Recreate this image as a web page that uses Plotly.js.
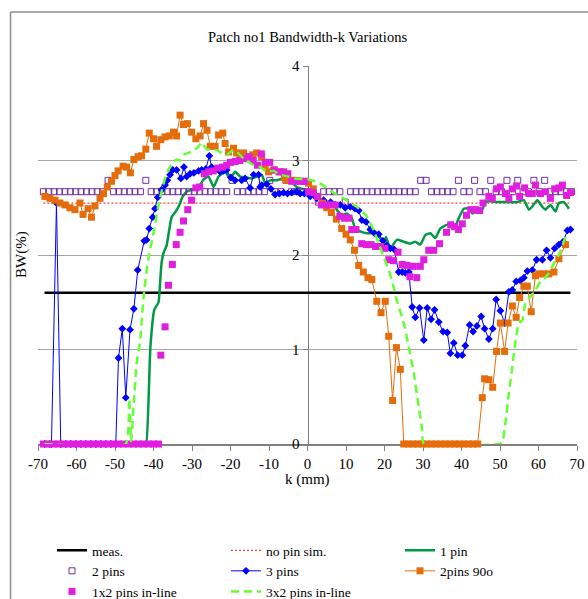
<!DOCTYPE html>
<html><head><meta charset="utf-8">
<script src="https://cdn.plot.ly/plotly-3.0.1.min.js"></script>
<style>html,body{margin:0;padding:0;background:#fff}#chart{width:588px;height:599px}</style>
</head><body><div id="chart"></div>
<script>
// ---- data ----
const xTickVals = [-70,-60,-50,-40,-30,-20,-10,0,10,20,30,40,50,60,70];
const xTickText = ['-70','-60','-50','-40','-30','-20','-10','0','10','20','30','40','50','60','70'];
const yTickVals = [0,1,2,3,4];

const measK = [-68.3, 68.3];
const measBW = [1.6, 1.6];

const noPinK = [-68.6, 68.6];
const noPinBW = [2.55, 2.55];

const onePinK = [-68.3,-42.2,-41.9,-40.8,-39.8,-38.7,-38.3,-37.9,-37.4,-36.6,-35.3,-34.4,-33.5,-32.4,-31.4,-30.1,-29,-27.9,-27,-25.7,-24.4,-23.1,-21.4,-20.1,-18.8,-17.5,-16,-14.5,-13.2,-11.9,-11,-9.7,-8,-6.2,-4.5,-2.8,-1.4,0,0.7,2.4,4.2,5.9,6.8,7.6,8.9,10.2,11.5,12.4,13.7,15.4,18,19.8,20.4,21.5,23.2,25,26.7,28,29.3,30.6,31.9,33.2,34.5,36.3,38,39.3,40.6,42.3,42.8,44,45.4,46.2,47.5,49.3,51.9,54.5,56.2,57.5,58.5,59.7,61,61.8,63.1,64.4,65.3,66.6,67.9];
const onePinBW = [0,0,0,1.03,1.42,1.50,1.70,1.92,2.02,2.10,2.40,2.45,2.51,2.62,2.67,2.69,2.70,2.74,2.80,2.83,2.72,2.83,2.88,2.81,2.88,2.83,2.82,2.81,2.83,2.85,2.76,2.79,2.79,2.81,2.79,2.72,2.70,2.69,2.67,2.62,2.56,2.51,2.56,2.48,2.42,2.44,2.39,2.28,2.25,2.23,2.23,2.12,2.19,2.07,2.16,2.14,2.12,2.14,2.11,2.21,2.23,2.18,2.28,2.32,2.28,2.39,2.49,2.49,2.44,2.46,2.48,2.56,2.57,2.56,2.56,2.56,2.58,2.48,2.52,2.58,2.51,2.48,2.53,2.46,2.55,2.56,2.49];

const twoPinsK = [-68.6,-67.2,-65.8,-64.4,-63,-61.6,-60.2,-58.8,-57.4,-56,-54.6,-53.2,-51.8,-50.4,-49,-47.6,-46.2,-44.8,-43.4,-42,-40.6,-39.2,-37.8,-36.4,-35,-33.6,-32.2,-30.8,-29.4,-28,-26.6,-25.2,-23.8,-22.4,-21,-19.6,-18.2,-16.8,-15.4,-14,-12.6,-11.2,-9.8,-8.4,-7,-5.6,-4.2,-2.8,-1.4,0,1.4,2.8,4.2,5.6,7,8.4,9.8,11.2,12.6,14,15.4,16.8,18.2,19.6,21,22.4,23.8,25.2,26.6,28,29.4,30.8,32.2,33.6,35,36.4,37.8,39.2,40.6,42,43.4,44.8,46.2,47.6,49,50.4,51.8,53.2,54.6,56,57.4,58.8,60.2,61.6,63,64.4,65.8,67.2,68.6];
const twoPinsBW = [2.67,2.67,2.67,2.67,2.67,2.67,2.67,2.67,2.67,2.67,2.67,2.67,2.79,2.67,2.67,2.67,2.67,2.67,2.67,2.79,2.67,2.67,2.67,2.67,2.67,2.67,2.67,2.67,2.67,2.67,2.67,2.67,2.67,2.67,2.67,2.79,2.67,2.67,2.67,2.67,2.67,2.67,2.79,2.67,2.67,2.79,2.67,2.67,2.67,2.67,2.67,2.56,2.67,2.67,2.67,2.67,2.56,2.67,2.67,2.67,2.67,2.67,2.67,2.67,2.67,2.67,2.67,2.67,2.67,2.67,2.79,2.79,2.67,2.67,2.67,2.67,2.67,2.79,2.67,2.67,2.79,2.67,2.67,2.79,2.67,2.67,2.79,2.67,2.79,2.67,2.67,2.79,2.67,2.79,2.67,2.67,2.67,2.67,2.67];

const threePinsK = [-68.3,-67,-66.5,-65.2,-64.1,-62.8,-61.5,-60.2,-58.9,-57.6,-56.3,-55,-53.7,-52.4,-51.1,-49.8,-49.1,-48.1,-47.2,-46.1,-45.1,-44.1,-42.4,-41.8,-41.1,-40.2,-39.6,-38.9,-37.9,-37,-36.4,-35.7,-35,-34,-32.9,-32.1,-31.4,-30.5,-29.5,-28.3,-27.5,-26.4,-25.5,-24.9,-24,-22.7,-21.8,-21,-19.9,-18.8,-17.1,-16.2,-14.9,-14,-12.7,-12.3,-11.9,-10.6,-9.5,-8.4,-7.3,-6.2,-5.2,-4.1,-2.8,-1.9,-0.8,0.7,2.4,4.2,6,7.2,8.5,9.8,11.1,12.3,13.3,14.1,15.2,16.3,17.4,18.5,19.6,20.6,21.5,22.5,23.7,24.6,25.4,26.3,27.2,28,29.1,30.2,31.1,32.1,33,34.1,35.2,36.3,37.1,38,39,40.2,41,42.1,43,44,45.1,46,47.1,48.1,49,50.1,51.2,52.3,53.2,54.2,55.3,56.2,57.1,58.4,59.5,61,62.1,63.1,64.2,65.3,66.4,67.5,68.3];
const threePinsBW = [0,0,0,2.55,0,0,0,0,0,0,0,0,0,0,0,0,0.91,1.22,0.49,1.21,1.43,1.84,2.15,2.16,2.28,2.40,2.49,2.61,2.69,2.74,2.79,2.85,2.90,2.90,2.81,2.93,2.83,2.86,2.87,2.89,2.90,2.91,3.05,2.93,2.90,2.88,2.89,2.90,2.82,2.79,2.79,2.81,2.71,2.85,2.85,2.72,2.74,2.75,2.70,2.64,2.65,2.66,2.65,2.66,2.67,2.65,2.65,2.62,2.60,2.58,2.56,2.53,2.53,2.50,2.51,2.49,2.47,2.37,2.35,2.27,2.23,2.22,2.15,2.10,2.07,2.06,1.82,1.82,1.81,1.82,1.45,1.34,1.44,1.10,1.44,1.32,1.42,1.29,1.19,1.18,0.96,1.07,0.94,0.94,1.04,1.26,1.19,1.25,1.35,1.22,1.11,1.22,1.53,1.41,1.28,1.61,1.63,1.72,1.73,1.76,1.83,1.84,1.95,1.95,2.05,1.97,2.07,2.11,2.14,2.26,2.27];

const twoPins90K = [-68.2,-66.9,-65.6,-64.3,-63,-61.7,-60.4,-59.1,-58.3,-57,-56.1,-55.2,-53.9,-53,-52,-50.9,-50,-49.2,-47.9,-47,-46,-45.1,-44,-43.1,-42,-41.1,-40,-39.2,-38.1,-37,-35.9,-34.8,-34,-33.1,-32.2,-31.2,-30.1,-29,-27.9,-27,-26.1,-25.3,-24,-23.1,-22,-21.4,-20.5,-19.2,-18.4,-17.5,-16.6,-15.3,-14.2,-13.2,-11.9,-11,-10.1,-8.8,-7.1,-6,-5.4,-4,-2.8,-1,0.3,1.5,2.7,3.9,5,6.2,7.5,8.9,10,11.1,12.2,13.3,14.5,15.7,16.7,18,19.1,20.2,21.1,22.1,23.1,24.1,25,26.2,27.4,28.6,29.8,31,32.2,33.4,34.6,35.8,37,38.2,39.4,40.6,41.8,43,44.2,45.4,46,47.1,48.1,49.1,50.1,51.2,52.1,53.2,54.2,55.1,56.2,57.1,58.1,59.2,60.1,61.4,62.7,64,65.3,67,68.1];
const twoPins90BW = [2.62,2.60,2.58,2.55,2.53,2.50,2.48,2.55,2.43,2.49,2.40,2.52,2.60,2.65,2.72,2.78,2.84,2.89,2.94,2.93,2.87,3.01,3.04,3.05,3.12,3.29,3.23,3.15,3.22,3.25,3.26,3.30,3.26,3.48,3.38,3.39,3.30,3.23,3.26,3.39,3.32,3.15,3.15,3.27,3.29,3.18,3.09,3.13,3.08,3.06,3.08,3.04,3.06,3.08,3.04,2.95,2.88,2.90,2.88,2.82,2.79,2.79,2.79,2.78,2.76,2.70,2.62,2.55,2.50,2.45,2.38,2.28,2.22,2.16,2.05,1.89,1.82,1.76,1.74,1.51,1.39,1.51,1.14,0.46,1.02,0.79,0,0,0,0,0,0,0,0,0,0,0,0,0,0,0,0,0,0.49,0.69,0.68,0.60,0.98,1.28,0.98,1.28,1.46,1.34,1.55,1.67,1.67,1.40,1.78,1.80,1.80,1.80,1.82,1.96,2.11];

const inline1x2K = [-68.6,-67.3,-66,-64.7,-63.4,-62.1,-60.8,-59.5,-58.2,-56.9,-55.6,-54.3,-53,-51.7,-50.4,-49.1,-47.8,-46.5,-45.2,-43.9,-42.6,-41.3,-40,-38.7,-38.1,-37,-36.1,-35.1,-34.1,-33.1,-32.2,-31.1,-30.1,-29,-28,-26.8,-25.7,-24.5,-23.3,-22.1,-21,-20,-18.8,-17.6,-16.4,-15.2,-14.1,-13,-12,-11,-9.8,-8.6,-7.4,-6.2,-5.1,-4.1,-3,-1.9,-0.7,0.3,1.5,2.6,3.6,4.8,6,7.2,8.4,9.6,10.8,11.5,12.6,14.1,15.3,16.5,17.7,18.9,20.1,21.1,22.3,23.5,24.6,25.8,26.6,27.5,28.4,29.3,30.2,31.5,32.8,34.3,36.1,37.2,38.2,39.2,40.2,41.3,42.4,43.6,44.7,45.6,47.1,48,49.1,50.1,51.4,52.3,53.2,54.3,55.1,56.4,57.5,58.4,59.2,60.5,61.8,63.1,64.2,65.3,66.2,67.3,68.3];
const inline1x2BW = [0,0,0,0,0,0,0,0,0,0,0,0,0,0,0,0,0,0,0,0,0,0,0,0,0.94,1.24,1.68,1.90,2.11,2.24,2.36,2.48,2.58,2.71,2.72,2.86,2.88,2.89,2.92,2.93,2.95,2.98,2.99,3.00,3.02,3.04,3.00,2.95,3.07,2.98,2.98,2.90,2.88,2.88,2.86,2.78,2.78,2.78,2.78,2.67,2.66,2.62,2.53,2.53,2.53,2.53,2.41,2.39,2.39,2.27,2.27,2.12,2.11,2.11,2.09,2.09,2.07,1.95,1.94,2.03,1.90,1.89,1.77,1.88,1.76,1.88,1.95,2.05,2.05,2.12,2.24,2.32,2.30,2.27,2.33,2.42,2.48,2.48,2.47,2.55,2.62,2.60,2.70,2.72,2.65,2.60,2.70,2.73,2.62,2.71,2.65,2.65,2.74,2.65,2.67,2.60,2.70,2.71,2.74,2.63,2.66];

const inline3x2K = [-68.3,-47.2,-46.3,-45.8,-45.1,-44.4,-43.5,-42.6,-41.4,-40,-38.7,-37.5,-36.4,-34.8,-33.8,-33.1,-32.2,-31,-29.6,-28.3,-27.5,-26.2,-24.9,-23.6,-22.3,-21,-19.2,-17.8,-16.6,-14,-12.3,-10.6,-8.8,-7.1,-4.9,-3.6,0.3,2,4,6,8.5,10.5,12.8,15.4,17.2,18.5,19.8,21.1,22,23.2,25,26.3,27.6,28.9,29.7,30.2,49.8,50.6,51.4,52.3,53.2,54,54.9,55.8,56.6,57.9,59.2,60.5,61.5,62.7,64,65.3,66.4,67,67.5];
const inline3x2BW = [0,0,0.48,0.03,0.45,0.85,1.08,1.55,1.95,2.23,2.53,2.74,2.88,2.99,3.01,3.00,3.06,3.08,3.10,3.15,3.19,3.12,3.11,3.11,3.08,3.06,3.11,3.07,3.02,2.95,2.93,2.88,2.89,2.85,2.83,2.81,2.80,2.78,2.74,2.68,2.62,2.57,2.51,2.41,2.26,2.12,1.98,1.84,1.72,1.52,1.28,1.03,0.75,0.39,0.18,0,0,0.02,0.22,0.54,0.82,1.08,1.28,1.31,1.49,1.56,1.63,1.72,1.75,1.81,1.91,2.00,2.12,2.19,2.23];

// ---- chart ----
const FONT = 'Liberation Serif, Times New Roman, serif';
const traces = [
  {name:'meas.', x:measK, y:measBW, mode:'lines', line:{color:'#000000', width:2.5}},
  {name:'no pin sim.', x:noPinK, y:noPinBW, mode:'lines', line:{color:'#ff3b3b', width:1.2, dash:'2px,2px'}},
  {name:'1 pin', x:onePinK, y:onePinBW, mode:'lines', line:{color:'#009a44', width:2.5, shape:'spline', smoothing:0.5}},
  {name:'2 pins', x:twoPinsK, y:twoPinsBW, mode:'markers', cliponaxis:false,
   marker:{symbol:'square-open', size:6, color:'#7030a0', line:{width:1, color:'#7030a0'}}},
  {name:'3 pins', x:threePinsK, y:threePinsBW, mode:'lines+markers', cliponaxis:false,
   line:{color:'#0000ff', width:1}, marker:{symbol:'diamond', size:6, color:'#0000ff'}},
  {name:'2pins 90o', x:twoPins90K, y:twoPins90BW, mode:'lines+markers', cliponaxis:false,
   line:{color:'#e46c0a', width:1}, marker:{symbol:'square', size:7, color:'#e46c0a'}},
  {name:'1x2 pins in-line', x:inline1x2K, y:inline1x2BW, mode:'markers', cliponaxis:false,
   marker:{symbol:'square', size:7, color:'#e01ede'}},
  {name:'3x2 pins in-line', x:inline3x2K, y:inline3x2BW, mode:'lines',
   line:{color:'#66ff33', width:2.5, dash:'8px,5px', shape:'spline', smoothing:0.4}}
];

const layout = {
  width:588, height:599,
  margin:{l:38, r:11, t:66, b:155, autoexpand:false},
  paper_bgcolor:'#ffffff', plot_bgcolor:'rgba(0,0,0,0)',
  font:{family:FONT, size:15, color:'#000'},
  title:{text:'Patch no1 Bandwidth-k Variations', x:0.5, xref:'paper', xanchor:'center',
         y:1-37/599, yref:'container', yanchor:'middle', font:{family:FONT, size:14.5, color:'#000'}},
  xaxis:{range:[-70,70], tickmode:'array', tickvals:xTickVals, ticktext:xTickText,
         showline:true, linecolor:'#808080', linewidth:1.5, ticks:'outside', ticklen:5, tickcolor:'#808080',
         showgrid:false, zeroline:false, layer:'below traces', tickfont:{family:FONT, size:15}, fixedrange:true},
  yaxis:{range:[0,4], tickmode:'array', tickvals:yTickVals, anchor:'free', position:0.5,
         showline:true, linecolor:'#808080', linewidth:1.5, ticks:'outside', ticklen:5, tickcolor:'#808080',
         showgrid:true, gridcolor:'#a6a6a6', gridwidth:1, zeroline:false, layer:'below traces',
         tickfont:{family:FONT, size:15}, fixedrange:true},
  showlegend:true,
  legend:{orientation:'h', x:(52-38)/539, xanchor:'left', y:(444-535)/378, yanchor:'top',
          entrywidth:129, entrywidthmode:'pixels', itemwidth:30, traceorder:'normal',
          font:{family:FONT, size:13.5, color:'#000'}, bgcolor:'rgba(0,0,0,0)', tracegroupgap:0},
  annotations:[
    {text:'k (mm)', xref:'paper', yref:'paper', x:0.5, y:(444-479)/378, xanchor:'center', yanchor:'middle',
     showarrow:false, font:{family:FONT, size:15}},
    {text:'BW(%)', xref:'paper', yref:'paper', x:(21-38)/539, y:(444-255)/378, xanchor:'center', yanchor:'middle',
     textangle:-90, showarrow:false, font:{family:FONT, size:15}}
  ],
  shapes:[
    {type:'line', xref:'paper', yref:'paper', x0:(10.5-38)/539, x1:(10.5-38)/539, y0:(444-12)/378, y1:(444-610)/378,
     line:{color:'#8c8c8c', width:1.5}},
    {type:'line', xref:'paper', yref:'paper', x0:(10.5-38)/539, x1:(600-38)/539, y0:(444-12)/378, y1:(444-12)/378,
     line:{color:'#8c8c8c', width:1.5}}
  ]
};

Plotly.newPlot('chart', traces, layout, {displayModeBar:false, staticPlot:true});
</script>
</body></html>
